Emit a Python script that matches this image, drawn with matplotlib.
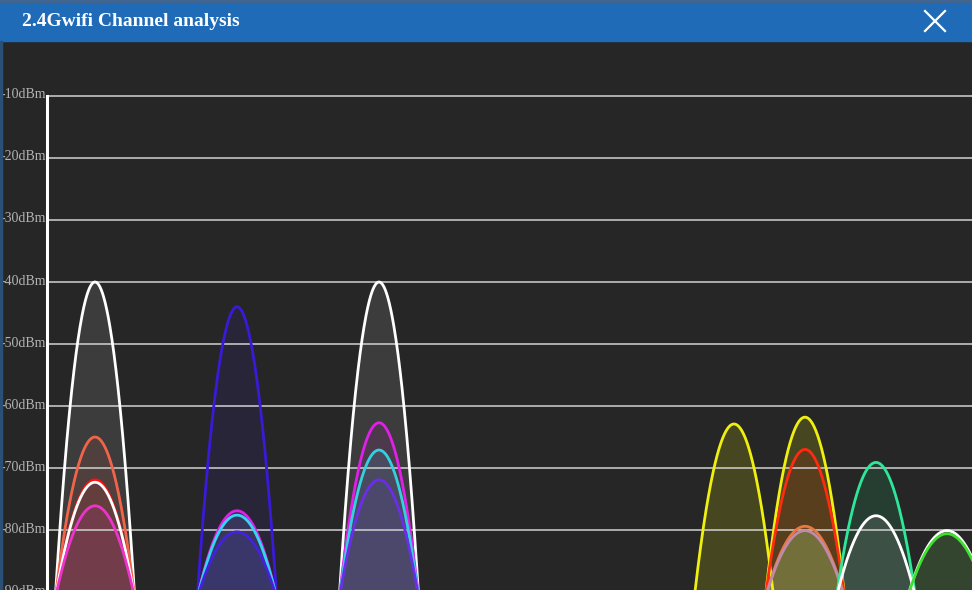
#import library
import numpy as np
import matplotlib
matplotlib.use("Agg")
import matplotlib.pyplot as plt
from matplotlib.patches import Rectangle
from matplotlib.lines import Line2D
from matplotlib.transforms import offset_copy

#data: one entry per access point (channel, peak signal in dBm, line colour, fill colour, fill alpha)
channels = [1, 1, 1, 1, 1,
            3, 3, 3, 3,
            5, 5, 5, 5,
            10,
            11, 11, 11, 11,
            12, 12,
            13, 13]
peaks = [-40, -65.0, -71.9, -72.3, -76.1,
         -44.0, -76.9, -77.6, -80.3,
         -40, -62.7, -67.1, -71.9,
         -62.9,
         -61.8, -67.0, -79.4, -80.1,
         -69.1, -77.7,
         -80.1, -80.6]
line_colors = ["#ffffff", "#f0654a", "#ff1010", "#ffffff", "#ee33cc",
               "#3a1ad8", "#e020e8", "#33d4f4", "#4422dd",
               "#ffffff", "#e020e8", "#33d0e0", "#6a2ee8",
               "#f0f010",
               "#f0f010", "#ff2a10", "#e87840", "#c08aa8",
               "#2ee89a", "#ffffff",
               "#ffffff", "#40e030"]
fill_colors = ["#ffffff", "#ff6347", "#ff0000", "#ffffff", "#ff32c8",
               "#3a1fe0", "#e020e0", "#30e0ff", "#4a30e8",
               "#ffffff", "#e020e0", "#30e0ff", "#7040f0",
               "#ffff00",
               "#ffff00", "#ff0000", "#e07a40", "#93d379",
               "#2ee890", "#ffffff",
               "#ffffff", "#44dd22"]
fill_alpha = [0.10, 0.10, 0.10, 0.03, 0.10,
              0.10, 0.10, 0.10, 0.10,
              0.10, 0.10, 0.10, 0.10,
              0.15,
              0.15, 0.10, 0.10, 0.30,
              0.12, 0.10,
              0.05, 0.12]

db_levels = [-10, -20, -30, -40, -50, -60, -70, -80, -90]
db_labels = ["%ddBm" % v for v in db_levels]

title = "2.4Gwifi Channel analysis"

#curve shape: parabola from the peak down to a common foot
half_width = 0.56   # channels
foot = -91.0

bg = "#262626"
W, H = 972, 590
fig = plt.figure(figsize=(W / 100, H / 100), dpi=100, facecolor=bg)

ax = fig.add_axes([47 / W, 0, (W - 47) / W, (H - 96) / H])
ax.set_facecolor(bg)
ax.set_xlim(1 + (47 - 95) / 71, 1 + (W - 95) / 71)
ax.set_ylim(-10 - (H - 96) / 6.2, -10)

#fills first
for ch, p, fc, a in zip(channels, peaks, fill_colors, fill_alpha):
    x = np.linspace(ch - half_width, ch + half_width, 200)
    y = p - (p - foot) * ((x - ch) / half_width) ** 2
    ax.fill_between(x, y, -120, color=fc, alpha=a, lw=0, zorder=1)

#grid lines
for v in db_levels:
    ax.axhline(v, color="#d2d2d2", lw=1.1, zorder=2, clip_on=False)

#curve lines
for ch, p, lc in zip(channels, peaks, line_colors):
    x = np.linspace(ch - half_width, ch + half_width, 200)
    y = p - (p - foot) * ((x - ch) / half_width) ** 2
    ax.plot(x, y, color=lc, lw=2.0, zorder=3, solid_capstyle="round")

#axis
for s in ["top", "right", "bottom"]:
    ax.spines[s].set_visible(False)
ax.spines["left"].set_color("white")
ax.spines["left"].set_linewidth(2.2)
ax.spines["left"].set_zorder(4)
ax.set_xticks([])
ax.set_yticks([])

lab_tr = offset_copy(ax.get_yaxis_transform(), fig=fig, x=-1, y=1, units="dots")
for v, t in zip(db_levels, db_labels):
    ax.text(0, v, t, transform=lab_tr, ha="right", va="center", color="#b4b4b4",
            fontsize=10, family="Liberation Serif", clip_on=False)

#title bar
fig.patches.append(Rectangle((0, 1 - 41 / H), 1, 41 / H, transform=fig.transFigure,
                             color="#1f6bb8", zorder=0))
fig.patches.append(Rectangle((0, 1 - 2 / H), 1, 2 / H, transform=fig.transFigure,
                             color="#3f6590", zorder=1))
fig.patches.append(Rectangle((0, 0), 2 / W, 1 - 41 / H, transform=fig.transFigure,
                             color="#2a5078", zorder=1))
fig.text(22 / W, 1 - 21 / H, title, color="white", fontsize=14, fontweight="bold",
         family="Liberation Serif", ha="left", va="center")

#close button
for (x0, y0, x1, y1) in [(925, 11, 945, 31), (925, 31, 945, 11)]:
    fig.lines.append(Line2D([x0 / W, x1 / W], [1 - y0 / H, 1 - y1 / H],
                            transform=fig.transFigure, color="white", lw=1.6))

fig.savefig("out.png", dpi=100, facecolor=bg)
